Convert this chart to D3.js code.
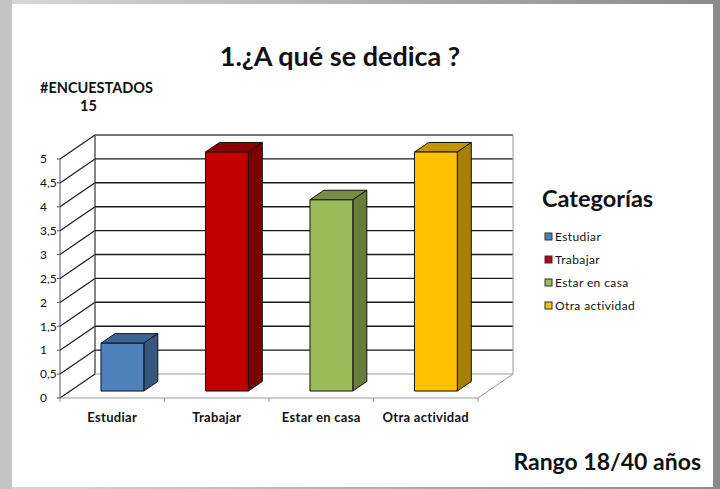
<html>
<head>
<meta charset="utf-8">
<title>1. ¿A qué se dedica?</title>
<style>
  body { margin: 0; background: #fff; }
  text { font-family: Lato, "Open Sans", sans-serif; fill: #111; }
</style>
</head>
<body>
<script src="https://cdn.jsdelivr.net/npm/d3@7/dist/d3.min.js"></script>
<script>
  var categorias = ["Estudiar", "Trabajar", "Estar en casa", "Otra actividad"];
  var valores = [1, 5, 4, 5];
  var marcasY = [0, 0.5, 1, 1.5, 2, 2.5, 3, 3.5, 4, 4.5, 5];

  var width = 720, height = 489;
  var svg = d3.select("body").append("svg")
      .attr("width", width)
      .attr("height", height);

  // marco gris
  var defs = svg.append("defs");
  var g1 = defs.append("linearGradient").attr("id", "marco").attr("x1", 0).attr("x2", 1).attr("y1", 0).attr("y2", 0);
  g1.append("stop").attr("offset", "0%").attr("stop-color", "#d8d8d8");
  g1.append("stop").attr("offset", "100%").attr("stop-color", "#8a8a8a");
  svg.append("rect").attr("width", width).attr("height", height).attr("fill", "url(#marco)");
  svg.append("rect").attr("x", 0).attr("y", 0).attr("width", 12).attr("height", height).attr("fill", "#c4c4c4");
  svg.append("rect").attr("x", 12).attr("y", 4).attr("width", 701).attr("height", 483).attr("fill", "#fff");

  // escalas
  var x = d3.scaleBand().domain(categorias).range([60, 478]);
  var y = d3.scaleLinear().domain([0, 5]).range([398, 159]);
  var color = d3.scaleOrdinal().domain(categorias)
      .range(["#4f81bd", "#c00000", "#9bbb59", "#ffc000"]);
  var lado = d3.scaleOrdinal().domain(categorias)
      .range(["#36587f", "#7a0000", "#677d3a", "#a87f00"]);
  var techo = d3.scaleOrdinal().domain(categorias)
      .range(["#3d6594", "#8e0000", "#768f45", "#c49300"]);

  var dX = 35, dY = -24;   // profundidad 3D
  function p(px, py, z) { return [px + z * dX, py + z * dY]; }
  function poly(pts) { return pts.map(function(d){ return d.join(","); }).join(" "); }

  var x0 = x.range()[0], x1 = x.range()[1];

  // pared del fondo
  svg.selectAll("line.fondo")
    .data(marcasY.filter(function(d){ return d > 0; }))
    .enter().append("line")
    .attr("x1", x0 + dX).attr("x2", x1 + dX)
    .attr("y1", function(d){ return y(d) + dY; })
    .attr("y2", function(d){ return y(d) + dY; })
    .attr("stroke", "#1a1a1a").attr("stroke-width", 1.4);
  // pared lateral
  svg.selectAll("line.lateral")
    .data(marcasY)
    .enter().append("line")
    .attr("x1", x0).attr("y1", function(d){ return y(d); })
    .attr("x2", x0 + dX).attr("y2", function(d){ return y(d) + dY; })
    .attr("stroke", "#1a1a1a").attr("stroke-width", 1.2);
  svg.append("line").attr("x1", x0 + dX).attr("x2", x0 + dX)
    .attr("y1", y(5) + dY).attr("y2", y(0) + dY).attr("stroke", "#333").attr("stroke-width", 1.2);
  svg.append("line").attr("x1", x1 + dX).attr("x2", x1 + dX)
    .attr("y1", y(5) + dY).attr("y2", y(0) + dY).attr("stroke", "#999");
  svg.append("line").attr("x1", x0 + dX).attr("x2", x1 + dX)
    .attr("y1", y(5) + dY).attr("y2", y(5) + dY).attr("stroke", "#999");
  // piso
  svg.append("polyline").attr("fill", "none").attr("stroke", "#999")
    .attr("points", poly([p(x0, y(0), 1), p(x1, y(0), 1), p(x1, y(0), 0), p(x0, y(0), 0)]));

  // eje Y
  svg.append("line").attr("x1", x0).attr("x2", x0).attr("y1", y(5)).attr("y2", y(0))
    .attr("stroke", "#555");
  svg.selectAll("line.tickY").data(marcasY).enter().append("line")
    .attr("x1", x0 - 3).attr("x2", x0)
    .attr("y1", function(d){ return y(d); }).attr("y2", function(d){ return y(d); })
    .attr("stroke", "#555");
  var coma = d3.formatLocale({decimal: ",", thousands: ".", grouping: [3], currency: ["", ""]}).format("~g");
  svg.selectAll("text.tickY").data(marcasY).enter().append("text")
    .attr("x", 40).attr("y", function(d){ return y(d); })
    .attr("dy", "0.35em")
    .attr("font-size", 12)
    .text(function(d){ return coma(d); });

  // eje X
  svg.selectAll("line.tickX").data(categorias.concat([null])).enter().append("line")
    .attr("x1", function(d, i){ return x0 + i * x.bandwidth(); })
    .attr("x2", function(d, i){ return x0 + i * x.bandwidth(); })
    .attr("y1", y(0)).attr("y2", y(0) + 4)
    .attr("stroke", "#999");
  svg.selectAll("text.catX").data(categorias).enter().append("text")
    .attr("x", function(d){ return x(d) + x.bandwidth() / 2; })
    .attr("y", 422)
    .attr("text-anchor", "middle")
    .attr("font-size", 13).attr("font-weight", "bold")
    .attr("letter-spacing", 0.3)
    .text(function(d){ return d; });

  // barras
  var z0 = 0.29, z1 = 0.69, bw = x.bandwidth() * 0.41;
  var barras = svg.selectAll("g.barra")
    .data(categorias.map(function(c, i){ return {cat: c, val: valores[i]}; }))
    .enter().append("g");
  function bx(d){ return x(d.cat) + (x.bandwidth() - bw) / 2; }
  barras.append("polygon")
    .attr("points", function(d){
      return poly([p(bx(d), y(d.val), z0), p(bx(d) + bw, y(d.val), z0), p(bx(d) + bw, y(d.val), z1), p(bx(d), y(d.val), z1)]);
    })
    .attr("fill", function(d){ return techo(d.cat); })
    .attr("stroke", "#111").attr("stroke-linejoin", "round");
  barras.append("polygon")
    .attr("points", function(d){
      return poly([p(bx(d) + bw, y(d.val), z0), p(bx(d) + bw, y(d.val), z1), p(bx(d) + bw, y(0), z1), p(bx(d) + bw, y(0), z0)]);
    })
    .attr("fill", function(d){ return lado(d.cat); })
    .attr("stroke", "#111").attr("stroke-linejoin", "round");
  barras.append("polygon")
    .attr("points", function(d){
      return poly([p(bx(d), y(d.val), z0), p(bx(d) + bw, y(d.val), z0), p(bx(d) + bw, y(0), z0), p(bx(d), y(0), z0)]);
    })
    .attr("fill", function(d){ return color(d.cat); })
    .attr("stroke", "#111").attr("stroke-linejoin", "round");

  // títulos
  svg.append("text").attr("x", 340).attr("y", 66).attr("text-anchor", "middle")
    .attr("font-size", 27).attr("font-weight", "bold").text("1.¿A qué se dedica ?");
  svg.append("text").attr("x", 40).attr("y", 93)
    .attr("font-size", 14.5).attr("font-weight", "bold").text("#ENCUESTADOS");
  svg.append("text").attr("x", 80).attr("y", 111)
    .attr("font-size", 14.5).attr("font-weight", "bold").text("15");
  svg.append("text").attr("x", 701).attr("y", 470).attr("text-anchor", "end")
    .attr("font-size", 23).attr("font-weight", "bold").text("Rango 18/40 años");

  // leyenda
  svg.append("text").attr("x", 542).attr("y", 207)
    .attr("font-size", 23.5).attr("font-weight", "bold").text("Categorías");
  var ley = svg.selectAll("g.ley").data(categorias).enter().append("g")
    .attr("transform", function(d, i){ return "translate(545," + (237 + i * 23) + ")"; });
  ley.append("rect").attr("x", 0).attr("y", -4).attr("width", 7).attr("height", 7)
    .attr("fill", function(d){ return color(d); }).attr("stroke", "#333");
  ley.append("text").attr("x", 10).attr("dy", "0.35em")
    .attr("font-size", 12).attr("letter-spacing", 0.4)
    .text(function(d){ return d; });
</script>
</body>
</html>
